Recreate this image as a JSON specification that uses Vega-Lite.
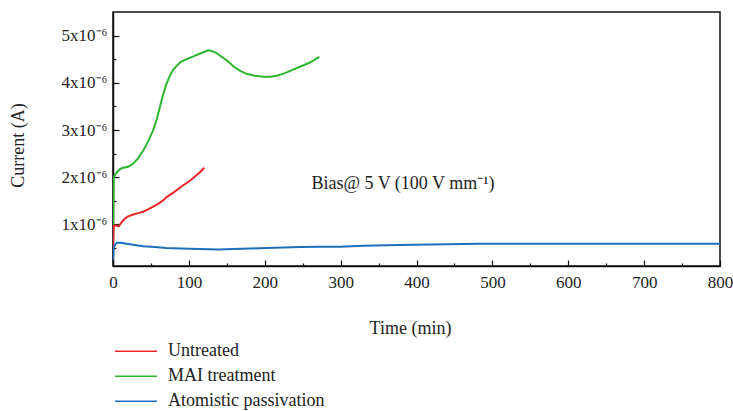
{
  "$schema": "https://vega.github.io/schema/vega-lite/v6.json",
  "width": 607,
  "height": 254,
  "autosize": {"type": "none"},
  "padding": {"left": 113, "top": 12, "right": 13, "bottom": 145},
  "config": {
    "font": "Liberation Serif",
    "view": {"stroke": "#111", "strokeWidth": 1.5},
    "axis": {
      "domainColor": "#111", "domainWidth": 1.5, "tickColor": "#111", "tickWidth": 1.2,
      "labelFont": "Liberation Serif", "labelFontSize": 17, "labelColor": "#222",
      "titleFont": "Liberation Serif", "titleFontSize": 18, "titleColor": "#222", "titleFontWeight": "normal",
      "grid": false
    },
    "legend": {
      "labelFont": "Liberation Serif", "labelFontSize": 18, "labelColor": "#222"
    }
  },
  "datasets": {
    "curves": [
      {"series": "MAI treatment", "t": 0, "I": 0.95e-6},
      {"series": "MAI treatment", "t": 0.5, "I": 1.5e-6},
      {"series": "MAI treatment", "t": 1, "I": 2.0e-6},
      {"series": "MAI treatment", "t": 3, "I": 2.06e-6},
      {"series": "MAI treatment", "t": 5, "I": 2.1e-6},
      {"series": "MAI treatment", "t": 9, "I": 2.17e-6},
      {"series": "MAI treatment", "t": 13.6, "I": 2.2e-6},
      {"series": "MAI treatment", "t": 20, "I": 2.22e-6},
      {"series": "MAI treatment", "t": 26.8, "I": 2.29e-6},
      {"series": "MAI treatment", "t": 33, "I": 2.4e-6},
      {"series": "MAI treatment", "t": 40, "I": 2.57e-6},
      {"series": "MAI treatment", "t": 47, "I": 2.78e-6},
      {"series": "MAI treatment", "t": 53, "I": 3.0e-6},
      {"series": "MAI treatment", "t": 58, "I": 3.25e-6},
      {"series": "MAI treatment", "t": 62, "I": 3.5e-6},
      {"series": "MAI treatment", "t": 66, "I": 3.75e-6},
      {"series": "MAI treatment", "t": 70.7, "I": 3.99e-6},
      {"series": "MAI treatment", "t": 75, "I": 4.15e-6},
      {"series": "MAI treatment", "t": 79.5, "I": 4.28e-6},
      {"series": "MAI treatment", "t": 85, "I": 4.38e-6},
      {"series": "MAI treatment", "t": 90, "I": 4.45e-6},
      {"series": "MAI treatment", "t": 98, "I": 4.51e-6},
      {"series": "MAI treatment", "t": 106, "I": 4.56e-6},
      {"series": "MAI treatment", "t": 115, "I": 4.62e-6},
      {"series": "MAI treatment", "t": 125.6, "I": 4.69e-6},
      {"series": "MAI treatment", "t": 131, "I": 4.67e-6},
      {"series": "MAI treatment", "t": 136.5, "I": 4.63e-6},
      {"series": "MAI treatment", "t": 145, "I": 4.53e-6},
      {"series": "MAI treatment", "t": 152, "I": 4.45e-6},
      {"series": "MAI treatment", "t": 158.5, "I": 4.35e-6},
      {"series": "MAI treatment", "t": 167, "I": 4.26e-6},
      {"series": "MAI treatment", "t": 176, "I": 4.19e-6},
      {"series": "MAI treatment", "t": 187, "I": 4.15e-6},
      {"series": "MAI treatment", "t": 198, "I": 4.13e-6},
      {"series": "MAI treatment", "t": 207, "I": 4.13e-6},
      {"series": "MAI treatment", "t": 215.7, "I": 4.15e-6},
      {"series": "MAI treatment", "t": 226, "I": 4.2e-6},
      {"series": "MAI treatment", "t": 237.5, "I": 4.28e-6},
      {"series": "MAI treatment", "t": 248, "I": 4.35e-6},
      {"series": "MAI treatment", "t": 259.5, "I": 4.43e-6},
      {"series": "MAI treatment", "t": 266, "I": 4.49e-6},
      {"series": "MAI treatment", "t": 272, "I": 4.55e-6},
      {"series": "Untreated", "t": 0, "I": 0.5e-6},
      {"series": "Untreated", "t": 0.5, "I": 0.8e-6},
      {"series": "Untreated", "t": 1, "I": 0.97e-6},
      {"series": "Untreated", "t": 2.2, "I": 0.98e-6},
      {"series": "Untreated", "t": 7.5, "I": 0.96e-6},
      {"series": "Untreated", "t": 11, "I": 1.04e-6},
      {"series": "Untreated", "t": 15.4, "I": 1.12e-6},
      {"series": "Untreated", "t": 20, "I": 1.17e-6},
      {"series": "Untreated", "t": 26.7, "I": 1.21e-6},
      {"series": "Untreated", "t": 33, "I": 1.24e-6},
      {"series": "Untreated", "t": 39.8, "I": 1.27e-6},
      {"series": "Untreated", "t": 46, "I": 1.32e-6},
      {"series": "Untreated", "t": 53, "I": 1.38e-6},
      {"series": "Untreated", "t": 60, "I": 1.44e-6},
      {"series": "Untreated", "t": 66, "I": 1.51e-6},
      {"series": "Untreated", "t": 70.7, "I": 1.58e-6},
      {"series": "Untreated", "t": 80, "I": 1.68e-6},
      {"series": "Untreated", "t": 92.6, "I": 1.83e-6},
      {"series": "Untreated", "t": 100, "I": 1.91e-6},
      {"series": "Untreated", "t": 110, "I": 2.04e-6},
      {"series": "Untreated", "t": 115, "I": 2.11e-6},
      {"series": "Untreated", "t": 120.3, "I": 2.2e-6},
      {"series": "Atomistic passivation", "t": 0, "I": 0.25e-6},
      {"series": "Atomistic passivation", "t": 0.5, "I": 0.45e-6},
      {"series": "Atomistic passivation", "t": 1, "I": 0.5e-6},
      {"series": "Atomistic passivation", "t": 3, "I": 0.58e-6},
      {"series": "Atomistic passivation", "t": 5.3, "I": 0.61e-6},
      {"series": "Atomistic passivation", "t": 10, "I": 0.61e-6},
      {"series": "Atomistic passivation", "t": 18, "I": 0.59e-6},
      {"series": "Atomistic passivation", "t": 26.4, "I": 0.57e-6},
      {"series": "Atomistic passivation", "t": 40, "I": 0.54e-6},
      {"series": "Atomistic passivation", "t": 55, "I": 0.52e-6},
      {"series": "Atomistic passivation", "t": 70, "I": 0.5e-6},
      {"series": "Atomistic passivation", "t": 90, "I": 0.49e-6},
      {"series": "Atomistic passivation", "t": 114, "I": 0.48e-6},
      {"series": "Atomistic passivation", "t": 140, "I": 0.47e-6},
      {"series": "Atomistic passivation", "t": 158.6, "I": 0.48e-6},
      {"series": "Atomistic passivation", "t": 180, "I": 0.49e-6},
      {"series": "Atomistic passivation", "t": 202, "I": 0.5e-6},
      {"series": "Atomistic passivation", "t": 225, "I": 0.51e-6},
      {"series": "Atomistic passivation", "t": 246, "I": 0.52e-6},
      {"series": "Atomistic passivation", "t": 275, "I": 0.53e-6},
      {"series": "Atomistic passivation", "t": 299, "I": 0.53e-6},
      {"series": "Atomistic passivation", "t": 330, "I": 0.55e-6},
      {"series": "Atomistic passivation", "t": 360, "I": 0.56e-6},
      {"series": "Atomistic passivation", "t": 396, "I": 0.57e-6},
      {"series": "Atomistic passivation", "t": 440, "I": 0.58e-6},
      {"series": "Atomistic passivation", "t": 484, "I": 0.59e-6},
      {"series": "Atomistic passivation", "t": 540, "I": 0.59e-6},
      {"series": "Atomistic passivation", "t": 602, "I": 0.59e-6},
      {"series": "Atomistic passivation", "t": 700, "I": 0.59e-6},
      {"series": "Atomistic passivation", "t": 800, "I": 0.59e-6}
    ],
    "note": [
      {"t": 261.5, "I": 1.76e-6, "label": "Bias@ 5 V (100 V mm⁻¹)"}
    ]
  },
  "resolve": {"axis": {"x": "independent", "y": "independent"}},
  "layer": [
    {
      "data": {"name": "curves"},
      "mark": {"type": "line", "strokeWidth": 2, "clip": true},
      "encoding": {
        "x": {
          "field": "t", "type": "quantitative",
          "scale": {"domain": [0, 800], "nice": false, "zero": false},
          "axis": {
            "orient": "bottom",
            "title": "Time (min)",
            "values": [0, 100, 200, 300, 400, 500, 600, 700, 800],
            "tickSize": -6,
            "labelPadding": 14,
            "labelFlush": false,
            "titleX": 297, "titleY": 62, "titleBaseline": "middle"
          }
        },
        "y": {
          "field": "I", "type": "quantitative",
          "scale": {"domain": [0.12e-6, 5.5e-6], "nice": false, "zero": false},
          "axis": {
            "orient": "left",
            "title": "Current (A)",
            "values": [0.000001, 0.000002, 0.000003, 0.000004, 0.000005],
            "labelExpr": "format(datum.value * 1000000, 'd') + 'x10⁻⁶'",
            "tickSize": -6,
            "labelPadding": 12,
            "labelFlush": false,
            "titleX": -95, "titleY": 133, "titleAngle": -90, "titleBaseline": "middle", "titleAlign": "center"
          }
        },
        "color": {
          "field": "series", "type": "nominal",
          "scale": {
            "domain": ["Untreated", "MAI treatment", "Atomistic passivation"],
            "range": ["#e8262a", "#2fb52f", "#1c6fbc"]
          },
          "legend": {
            "title": null,
            "orient": "none",
            "legendX": 1,
            "legendY": 327,
            "direction": "vertical",
            "symbolType": "stroke",
            "symbolSize": 1764,
            "symbolStrokeWidth": 1.3,
            "clipHeight": 24.5,
            "rowPadding": 0,
            "labelOffset": 10,
            "padding": 0
          }
        }
      }
    },
    {
      "data": {"name": "note"},
      "mark": {"type": "text", "align": "left", "baseline": "alphabetic", "fontSize": 18, "font": "Liberation Serif", "color": "#222"},
      "encoding": {
        "x": {
          "field": "t", "type": "quantitative",
          "axis": {
            "orient": "bottom",
            "title": null,
            "values": [50, 150, 250, 350, 450, 550, 650, 750],
            "labels": false,
            "domain": false,
            "tickSize": -3
          }
        },
        "y": {
          "field": "I", "type": "quantitative",
          "axis": {
            "orient": "left",
            "title": null,
            "values": [0.0000005, 0.0000015, 0.0000025, 0.0000035, 0.0000045],
            "labels": false,
            "domain": false,
            "tickSize": -3
          }
        },
        "text": {"field": "label"}
      }
    }
  ]
}
